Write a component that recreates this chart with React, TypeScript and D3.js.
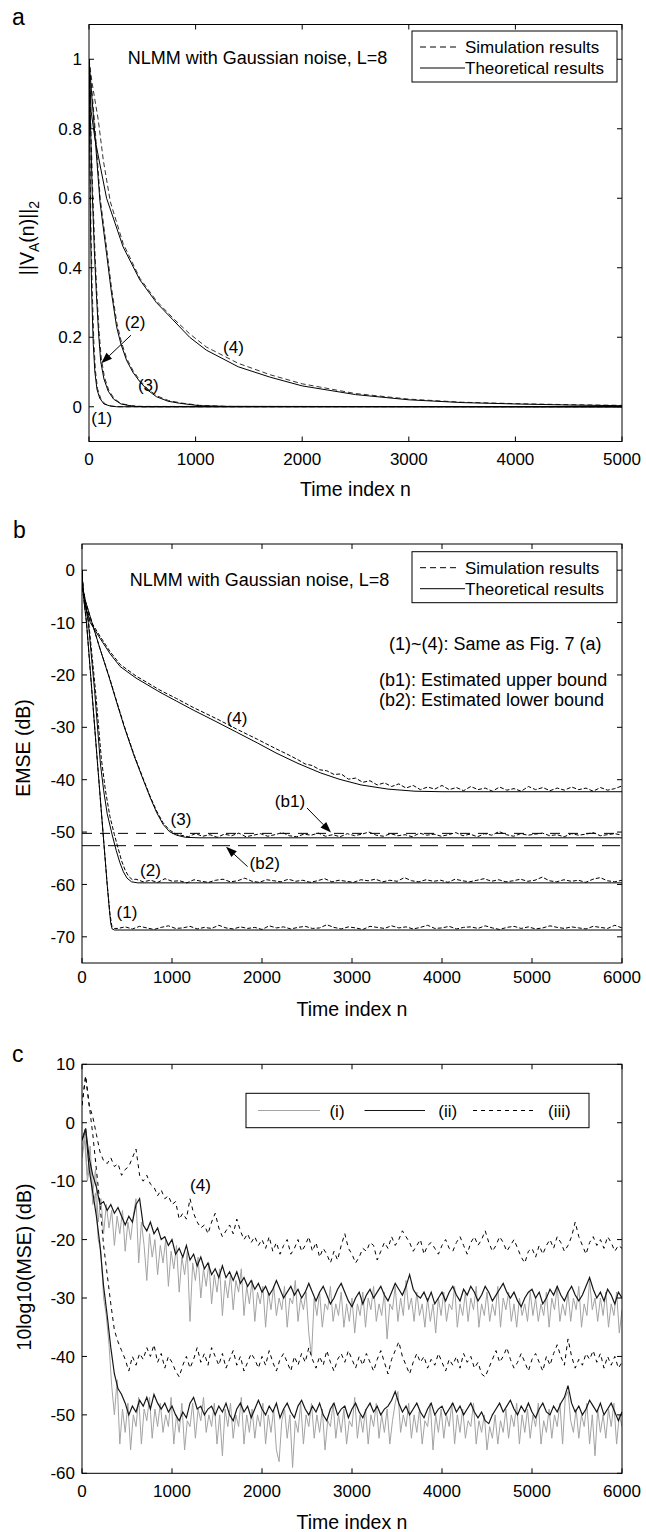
import React from "react";
import * as d3 from "d3";

type P = [number, number];
const FONT = "'Liberation Sans', Arial, Helvetica, sans-serif";

// ---------------- Panel a ----------------
const aXTicks = [0, 1000, 2000, 3000, 4000, 5000];
const aYTicks = [0, 0.2, 0.4, 0.6, 0.8, 1];
const aTheo1: P[] = [[0, 1], [8, 0.7], [15, 0.5], [25, 0.33], [40, 0.18], [55, 0.1], [75, 0.05], [100, 0.025], [140, 0.008], [200, 0.002], [260, 0], [5000, 0]];
const aSim1: P[] = [[0, 1], [10, 0.72], [18, 0.52], [30, 0.34], [45, 0.19], [60, 0.105], [80, 0.052], [110, 0.024], [150, 0.008], [210, 0.002], [280, 0], [5000, 0]];
const aTheo2: P[] = [[0, 1], [15, 0.8], [30, 0.62], [50, 0.45], [70, 0.32], [90, 0.21], [110, 0.13], [140, 0.08], [180, 0.045], [230, 0.022], [300, 0.008], [400, 0.002], [500, 0], [5000, 0]];
const aSim2: P[] = [[0, 1], [18, 0.8], [35, 0.62], [55, 0.45], [75, 0.32], [95, 0.215], [115, 0.14], [145, 0.085], [185, 0.048], [235, 0.024], [300, 0.009], [400, 0.003], [500, 0.001], [5000, 0]];
const aTheo3: P[] = [[0, 1], [30, 0.88], [56, 0.78], [103, 0.59], [165, 0.44], [210, 0.33], [259, 0.23], [300, 0.18], [352, 0.134], [410, 0.1], [477, 0.072], [550, 0.048], [632, 0.029], [740, 0.016], [850, 0.01], [1036, 0.003], [1300, 0.001], [5000, 0]];
const aSim3: P[] = [[0, 1], [30, 0.9], [60, 0.79], [105, 0.6], [168, 0.45], [212, 0.34], [262, 0.24], [305, 0.185], [355, 0.138], [415, 0.103], [480, 0.075], [555, 0.05], [640, 0.031], [745, 0.018], [860, 0.011], [1040, 0.004], [1300, 0.001], [5000, 0]];
const aTheo4: P[] = [[0, 1], [20, 0.85], [56, 0.77], [165, 0.6], [320, 0.46], [477, 0.365], [632, 0.3], [788, 0.25], [944, 0.2], [1100, 0.163], [1400, 0.115], [1700, 0.085], [2000, 0.06], [2500, 0.035], [3000, 0.02], [3500, 0.012], [4000, 0.008], [4500, 0.005], [5000, 0.003]];
const aSim4: P[] = [[0, 1], [30, 0.93], [87, 0.825], [134, 0.71], [200, 0.59], [320, 0.47], [477, 0.37], [632, 0.305], [788, 0.255], [944, 0.21], [1100, 0.172], [1400, 0.125], [1700, 0.092], [2000, 0.066], [2500, 0.038], [3000, 0.022], [3500, 0.013], [4000, 0.009], [4500, 0.006], [5000, 0.004]];

// ---------------- Panel b ----------------
const bXTicks = [0, 1000, 2000, 3000, 4000, 5000, 6000];
const bYTicks = [0, -10, -20, -30, -40, -50, -60, -70];
const bTheo1: P[] = [[0, 0], [10, -4], [50, -10], [100, -20.9], [150, -32], [233, -50], [280, -60], [305, -65], [320, -67.5], [335, -68.5], [360, -68.7], [6000, -68.7]];
const bTheo2: P[] = [[0, 0], [10, -3.5], [70, -10], [140, -23], [205, -37], [240, -42], [280, -46.5], [335, -50.5], [380, -53.5], [420, -55.8], [460, -57.6], [500, -58.8], [550, -59.5], [620, -59.7], [6000, -59.7]];
const bTheo3: P[] = [[0, 0], [10, -3.5], [40, -6], [111, -10], [200, -15], [302, -20.5], [390, -25.5], [471, -30], [580, -35.5], [680, -40], [760, -43.5], [830, -46.3], [900, -48.5], [970, -49.9], [1050, -50.6], [1150, -51], [1300, -51.1], [6000, -51.1]];
const bTheo4: P[] = [[0, 0], [10, -3.5], [40, -7], [92, -10], [200, -13], [314, -16], [424, -18.4], [600, -20.6], [866, -23.3], [1050, -25], [1235, -26.7], [1500, -29], [1714, -30.9], [1950, -33], [2156, -34.9], [2400, -36.9], [2650, -38.7], [2856, -39.9], [3100, -41], [3400, -41.8], [3700, -42.2], [4000, -42.3], [6000, -42.3]];
const bSim1Head: P[] = [[0, 0], [10, -4], [50, -10], [100, -21], [150, -32], [233, -50], [280, -60], [310, -65.5], [330, -67.8], [360, -68.4]];
const bSim1Tail = [-68.4, -68.1, -68.5, -68.0, -68.3, -68.6, -68.2, -67.9, -68.4, -68.3, -68.0, -68.5, -68.2, -68.4, -67.8, -68.3, -68.5, -68.1, -68.4, -68.2, -68.6, -67.9, -68.3, -68.1, -68.5, -68.2, -68.0, -68.4, -68.3, -67.7, -68.2, -68.5, -68.1, -68.3, -68.6, -68.0, -68.2, -68.4, -67.9, -68.3, -68.1, -68.5, -68.2, -67.8, -68.4, -68.3, -68.0, -68.5, -68.2, -68.1, -68.4, -67.9, -68.3, -68.6, -68.2, -68.0, -68.4, -68.1, -68.5, -68.3, -67.9, -68.2, -68.4, -68.1, -68.3, -68.5, -68.0, -68.2, -68.4, -67.8, -68.3];
const bSim2Head: P[] = [[0, 0], [10, -3.5], [75, -10], [150, -23], [215, -36], [260, -42], [310, -47], [360, -50.5], [400, -53], [440, -55.5], [480, -57.3], [520, -58.5], [560, -59.1]];
const bSim2Tail = [-59.0, -59.5, -59.2, -59.6, -58.9, -59.4, -59.3, -59.7, -59.1, -59.4, -59.6, -59.2, -59.0, -59.5, -59.3, -58.8, -59.4, -59.6, -59.1, -59.3, -59.5, -59.0, -59.4, -59.2, -59.6, -59.3, -58.9, -59.5, -59.2, -59.4, -59.6, -59.1, -59.3, -59.0, -59.5, -59.2, -59.4, -58.7, -59.3, -59.5, -59.1, -59.4, -59.2, -59.6, -59.0, -59.3, -59.5, -59.2, -58.9, -59.4, -59.1, -59.5, -59.3, -59.0, -59.4, -59.2, -58.6, -59.3, -59.5, -59.1, -59.4, -59.2, -59.6, -59.0, -58.7, -59.3, -59.5, -59.2];
const bSim3Head: P[] = [[0, 0], [10, -3.5], [40, -6], [111, -10], [200, -15], [302, -20.3], [390, -25.3], [471, -29.8], [580, -35.3], [680, -39.8], [760, -43.3], [830, -46], [900, -48.2], [970, -49.6], [1040, -50.3]];
const bSim3Tail = [-50.6, -50.9, -50.3, -50.8, -50.5, -51.0, -50.4, -50.7, -50.2, -50.9, -50.6, -50.3, -50.8, -50.5, -50.1, -50.7, -50.9, -50.4, -50.6, -50.2, -50.8, -50.5, -50.9, -50.3, -50.7, -50.4, -50.0, -50.6, -50.8, -50.3, -50.7, -50.5, -50.9, -50.2, -50.6, -50.4, -50.8, -50.5, -50.1, -50.7, -50.4, -50.9, -50.3, -50.6, -49.9, -50.5, -50.8, -50.3, -50.6, -50.4, -50.2, -50.7, -50.5, -50.9, -50.3, -50.6, -50.4, -50.1, -50.7, -50.5, -50.3, -50.6];
const bSim4Head: P[] = [[0, 0], [10, -3.5], [40, -6.5], [92, -9.6], [200, -12.6], [314, -15.6], [424, -18], [600, -20.2], [866, -22.9], [1050, -24.5], [1235, -26.2], [1500, -28.4], [1714, -30.3], [1950, -32.3], [2156, -34.1], [2300, -35.3]];
const bSim4Tail = [-36.2, -37.0, -37.3, -38.1, -38.3, -39.0, -38.9, -39.9, -39.7, -40.5, -40.2, -41.0, -40.6, -41.3, -40.8, -41.6, -41.1, -41.9, -41.4, -41.8, -41.1, -41.9, -41.5, -42.1, -41.3, -41.9, -41.6, -42.2, -41.4, -42.0, -41.7, -42.2, -41.3, -41.9, -41.5, -42.1, -41.6, -42.0, -41.4, -41.9, -41.6, -42.2, -41.5, -42.0, -41.7, -41.2];
const bBoundUpper = -50.25;
const bBoundLower = -52.6;

// ---------------- Panel c ----------------
const cXTicks = [0, 1000, 2000, 3000, 4000, 5000, 6000];
const cYTicks = [10, 0, -10, -20, -30, -40, -50, -60];
const cUpperIII = [3, 8, 3, 1, -2, -5, -6.5, -7, -6, -7.5, -7, -9, -8, -7.5, -6, -4.5, -9, -10, -9, -10.5, -11, -12.5, -11.5, -13, -12.5, -14, -13.5, -16.5, -15.5, -16.5, -13, -15.5, -17, -18, -17.5, -19, -17, -15.5, -18, -19.5, -18.5, -17.5, -19, -16.5, -18.5, -20, -19, -20.5, -19.5, -21, -20, -21.5, -19.5, -22, -20.5, -22.5, -21, -20, -22.5, -21.5, -20, -22, -21, -19.5, -22, -20.5, -23, -21.5, -22.5, -24, -22, -23.5, -21, -19, -21.5, -22.5, -24, -23, -21.5, -22, -20.5, -21, -23.5, -22, -20.5, -21.5, -19.5, -21, -20, -18.5, -19.5, -20.5, -22, -21, -20, -22.5, -21, -20.5, -21.5, -22.5, -21, -20, -21.5, -22, -20.5, -19.5, -21, -22.5, -20.5, -19.5, -21, -20, -18.5, -20.5, -22, -21, -19.5, -20.5, -22, -21, -20, -21.5, -23, -24, -22, -21.5, -23, -21, -22.5, -21, -20, -21.5, -19.5, -20.5, -22, -21, -19.5, -17, -19.5, -21, -22.5, -20.5, -19.5, -21, -20, -21.5, -19.5, -20.5, -22, -21, -21.5];
const cUpperII = [-3, -1, -6, -9, -11, -14, -13.5, -15, -14, -15.5, -14.5, -16, -17.5, -16, -17, -14, -13, -17.5, -18.5, -17, -19, -18, -20, -19.5, -21, -20, -22.5, -21.5, -23, -21, -23.5, -22.5, -24.5, -23, -25, -24, -26, -25, -26.5, -24.5, -26.5, -25.5, -27, -25.5, -27.5, -26.5, -28, -27, -28.5, -27.5, -29, -28, -29.5, -28.5, -27, -28.5, -30, -29, -28, -29.5, -28.5, -30, -29, -27.5, -29, -30.5, -29, -28, -29.5, -31, -30, -28.5, -27.5, -29, -30.5, -31.5, -30, -29, -31, -29.5, -28.5, -30, -29, -28, -29.5, -30.5, -29, -27.5, -28.5, -29.5, -28, -26, -28.5, -29.5, -30, -29, -30.5, -29, -31, -30, -29, -30.5, -29, -28, -29.5, -30.5, -28.5, -29.5, -28, -29, -30.5, -29.5, -28, -29, -30.5, -29.5, -28.5, -27.5, -29, -30, -29, -30.5, -31.5, -30, -29, -28.5, -30, -29, -31, -30, -28.5, -29.5, -28, -29.5, -30.5, -29, -28, -29.5, -30.5, -29.5, -28, -26.5, -28.5, -30, -29, -30.5, -28.5, -29.5, -31, -29, -30];
const cUpperI = [-5, -2, -9, -4, -12, -8, -17, -13, -19, -14, -18, -15, -21, -16, -19, -15, -22, -17, -20, -16, -13, -24, -17, -21, -27, -19, -23, -20, -26, -21, -24, -20, -28, -22, -25, -21, -29, -23, -26, -22, -34, -24, -27, -23, -30, -25, -28, -24, -31, -26, -29, -25, -33, -27, -30, -26, -32, -27, -29, -25, -33, -28, -31, -27, -34, -29, -31, -28, -35, -29, -32, -28, -33, -30, -32, -28, -35, -30, -31, -27, -34, -30, -32, -29, -36, -40, -30, -33, -29, -35, -31, -32, -28, -34, -31, -33, -29, -35, -31, -34, -30, -36, -31, -33, -29, -35, -30, -32, -28, -34, -31, -33, -29, -37, -31, -32, -28, -34, -30, -33, -27, -32, -30, -34, -29, -33, -31, -35, -30, -34, -31, -36, -30, -33, -29, -34, -31, -32, -28, -35, -31, -33, -29, -34, -30, -32, -28, -35, -31, -33, -29, -34, -31, -33, -28, -35, -30, -32, -29, -34, -31, -35, -30, -33, -31, -34, -29, -33, -30, -34, -31, -33, -29, -35, -30, -32, -28, -34, -31, -33, -29, -34, -30, -32, -28, -35, -31, -33, -27, -32, -30, -34, -30, -33, -29, -35, -31, -33, -29, -36, -32];
const cLowerIII = [3, 8, 3, -2, -8, -14, -21, -26, -31, -35.5, -37.5, -39, -40.5, -42.5, -40, -41.5, -39.5, -40.5, -38.5, -40, -38, -41, -39.5, -42, -40, -41, -42.5, -43.5, -41.5, -40, -42, -40.5, -38.5, -41, -39.5, -41.5, -38.5, -40, -41.5, -39.5, -42, -40.5, -39, -41.5, -40, -42.5, -41, -39.5, -40.5, -42, -40, -41.5, -39, -41, -42.5, -40.5, -39.5, -41, -42.5, -40, -41.5, -39.5, -41, -38.5, -40.5, -42, -40, -41.5, -39, -41, -42.5, -40.5, -39.5, -41, -39, -40.5, -42, -40, -41.5, -39.5, -41, -42.5, -40.5, -39, -41, -43, -40.5, -39, -37.5, -40, -41.5, -43, -41, -39.5, -41, -40, -42, -40.5, -41.5, -39.5, -41, -42.5, -40.5, -41.5, -40, -42, -39.5, -41, -40, -42, -41, -43, -43.5, -42, -40.5, -39, -41, -40, -38.5, -40.5, -42, -41, -39.5, -41, -42.5, -40.5, -39.5, -41, -42.5, -40, -41.5, -39.5, -38, -40, -41.5, -37, -40, -42, -40.5, -41.5, -39.5, -40.5, -39, -41, -39.5, -42, -40, -41.5, -40, -42, -41];
const cLowerII = [-3, -1, -8, -12, -16, -21, -28, -33, -38.5, -43, -45.5, -46.5, -48, -50, -48.5, -49.5, -47.5, -48.5, -47, -49, -46.5, -48, -49, -48, -49.5, -48.5, -50, -51, -49.5, -50.5, -48, -47, -49, -48.5, -50, -49, -48.5, -50, -48.5, -49.5, -48, -50, -51, -49, -48, -49.5, -48.5, -50.5, -49, -47.5, -49, -50, -48.5, -49.5, -48, -50.5, -49, -48, -49.5, -50.5, -48.5, -47.5, -49, -50, -48.5, -49.5, -48, -50, -51, -49, -48, -50, -49, -48.5, -50.5, -49, -48, -49.5, -50.5, -49, -48, -49.5, -48.5, -50, -49, -48.5, -47.5, -46, -48, -49.5, -48.5, -50, -49, -48, -49.5, -50.5, -49, -48, -50, -49, -48.5, -50, -49, -48, -49.5, -48.5, -50, -49, -48, -49.5, -50.5, -49.5, -51, -51.5, -50, -49, -48, -49.5, -48.5, -47.5, -49, -50, -48.5, -49.5, -48, -49.5, -50.5, -49, -48, -49.5, -50, -48.5, -49.5, -48, -47, -45, -48, -49.5, -48.5, -50, -49, -47.5, -48.5, -49.5, -48, -50, -49, -48, -49.5, -51, -49.5];
const cLowerI = [-6, -3, -10, -7, -14, -12, -20, -22, -30, -33, -38, -45, -50, -44, -55, -49, -53, -48, -56, -50, -52, -47, -55, -49, -51, -47, -54, -49, -52, -48, -53, -50, -52, -47, -55, -50, -53, -48, -56, -51, -52, -48, -54, -49, -51, -47, -53, -50, -52, -48, -55, -50, -57, -49, -52, -48, -54, -50, -52, -47, -55, -50, -53, -49, -54, -50, -52, -48, -55, -50, -53, -49, -56, -58, -51, -49, -54, -50, -59, -51, -53, -48, -55, -50, -52, -48, -54, -50, -53, -49, -56, -51, -52, -48, -54, -50, -53, -49, -55, -51, -52, -47, -54, -50, -53, -49, -55, -50, -52, -48, -54, -50, -53, -49, -55, -51, -48, -46, -53, -50, -52, -48, -54, -50, -53, -49, -55, -51, -52, -48, -56, -50, -53, -49, -54, -50, -52, -48, -55, -50, -53, -49, -54, -51, -52, -48, -55, -51, -53, -50, -56, -52, -54, -50, -55, -51, -53, -49, -54, -50, -52, -48, -55, -50, -53, -49, -54, -50, -52, -48, -55, -51, -53, -49, -54, -50, -52, -48, -55, -47, -46, -51, -53, -49, -54, -50, -52, -48, -55, -50, -57, -49, -53, -50, -54, -49, -52, -48, -55, -50, -52];

// ---------------- helpers ----------------
function spread(start: number, end: number, vals: number[]): P[] {
  const step = (end - start) / (vals.length - 1);
  return vals.map((v, i) => [start + i * step, v] as P);
}
function pathOf(x: any, y: any, pts: P[]) {
  return d3.line<P>().x((d) => x(d[0])).y((d) => y(d[1]))(pts) || "";
}

const xA = d3.scaleLinear().domain([0, 5000]).range([89, 622]);
const yA = d3.scaleLinear().domain([-0.1, 1.1]).range([441.5, 24.5]);
const xB = d3.scaleLinear().domain([0, 6000]).range([82, 622]);
const yB = d3.scaleLinear().domain([-75, 5]).range([963, 544]);
const xC = d3.scaleLinear().domain([0, 6000]).range([82, 622]);
const yC = d3.scaleLinear().domain([-60, 10]).range([1473.3, 1064.3]);

function Frame({ x, y, xTicks, yTicks, xLabelY }: any) {
  const [x0, x1] = x.range();
  const [yb, yt] = y.range();
  return (
    <g>
      <rect x={x0} y={yt} width={x1 - x0} height={yb - yt} fill="none" stroke="#000" strokeWidth={1} />
      {xTicks.map((t: number) => (
        <g key={"x" + t}>
          <line x1={x(t)} x2={x(t)} y1={yb} y2={yb - 5} stroke="#000" />
          <line x1={x(t)} x2={x(t)} y1={yt} y2={yt + 5} stroke="#000" />
          <text x={x(t)} y={xLabelY} textAnchor="middle" fontSize={17}>{String(t)}</text>
        </g>
      ))}
      {yTicks.map((t: number) => (
        <g key={"y" + t}>
          <line x1={x0} x2={x0 + 5} y1={y(t)} y2={y(t)} stroke="#000" />
          <line x1={x1} x2={x1 - 5} y1={y(t)} y2={y(t)} stroke="#000" />
          <text x={x0 - 7} y={y(t)} dy="0.36em" textAnchor="end" fontSize={17}>{String(t)}</text>
        </g>
      ))}
    </g>
  );
}

function Arrow({ x1, y1, x2, y2 }: any) {
  const ang = Math.atan2(y2 - y1, x2 - x1);
  const L = 11, W = 4;
  const bx = x2 - L * Math.cos(ang), by = y2 - L * Math.sin(ang);
  const px = -Math.sin(ang) * W, py = Math.cos(ang) * W;
  return (
    <g>
      <line x1={x1} y1={y1} x2={bx} y2={by} stroke="#000" strokeWidth={1} />
      <polygon points={`${x2},${y2} ${bx + px},${by + py} ${bx - px},${by - py}`} fill="#000" />
    </g>
  );
}

function Legend2({ x, y }: any) {
  return (
    <g>
      <rect x={x} y={y} width={205} height={51} fill="#fff" stroke="#000" strokeWidth={1} />
      <line x1={x + 8} x2={x + 45} y1={y + 16} y2={y + 16} stroke="#000" strokeDasharray="6,4" />
      <text x={x + 53} y={y + 22} fontSize={17}>Simulation results</text>
      <line x1={x + 8} x2={x + 53} y1={y + 37} y2={y + 37} stroke="#000" />
      <text x={x + 53} y={y + 43} fontSize={17}>Theoretical results</text>
    </g>
  );
}

export default function App() {
  const solid = { fill: "none", stroke: "#000", strokeWidth: 1 };
  const dashA = { fill: "none", stroke: "#333", strokeWidth: 1, strokeDasharray: "5,3" };
  const dashB = { fill: "none", stroke: "#000", strokeWidth: 1, strokeDasharray: "4,2" };

  const bSim1 = bSim1Head.concat(spread(400, 6000, bSim1Tail));
  const bSim2 = bSim2Head.concat(spread(600, 6000, bSim2Tail));
  const bSim3 = bSim3Head.concat(spread(1100, 6000, bSim3Tail));
  const bSim4 = bSim4Head.concat(spread(2400, 6000, bSim4Tail));

  return (
    <svg width={646} height={1532} style={{ position: "absolute", left: 0, top: 0, background: "#fff" }} fontFamily={FONT}>
      <defs>
        <clipPath id="clipA"><rect x={89} y={24.5} width={533} height={417} /></clipPath>
        <clipPath id="clipB"><rect x={82} y={544} width={540} height={419} /></clipPath>
        <clipPath id="clipC"><rect x={82} y={1064.3} width={540} height={409} /></clipPath>
      </defs>
      <rect x={0} y={0} width={646} height={1532} fill="#fff" />

      {/* ---------- Panel a ---------- */}
      <text x={12} y={25} fontSize={23}>a</text>
      <g clipPath="url(#clipA)">
        {[aSim1, aSim2, aSim3, aSim4].map((s, i) => <path key={"as" + i} d={pathOf(xA, yA, s)} {...dashA} />)}
        {[aTheo1, aTheo2, aTheo3, aTheo4].map((s, i) => <path key={"at" + i} d={pathOf(xA, yA, s)} {...solid} />)}
      </g>
      <Frame x={xA} y={yA} xTicks={aXTicks} yTicks={aYTicks} xLabelY={465} />
      <text x={127.7} y={64} fontSize={18}>NLMM with Gaussian noise, L=8</text>
      <Legend2 x={412} y={31} />
      <text x={xA(432)} y={yA(0.245)} dy="0.35em" textAnchor="middle" fontSize={17}>(2)</text>
      <Arrow x1={xA(394)} y1={yA(0.206)} x2={xA(115)} y2={yA(0.125)} />
      <text x={xA(556)} y={yA(0.0625)} dy="0.35em" textAnchor="middle" fontSize={17}>(3)</text>
      <text x={xA(119)} y={yA(-0.0325)} dy="0.35em" textAnchor="middle" fontSize={17}>(1)</text>
      <text x={xA(1355)} y={yA(0.173)} dy="0.35em" textAnchor="middle" fontSize={17}>(4)</text>
      <text x={355.5} y={496} textAnchor="middle" fontSize={19.5}>Time index n</text>
      <text transform="translate(34,238) rotate(-90)" textAnchor="middle" fontSize={19.5}>
        ||V<tspan fontSize={14} dy={5}>A</tspan><tspan dy={-5}>(n)||</tspan><tspan fontSize={14} dy={5}>2</tspan>
      </text>

      {/* ---------- Panel b ---------- */}
      <text x={13} y={538} fontSize={23}>b</text>
      <g clipPath="url(#clipB)">
        <line x1={xB(0)} x2={xB(6000)} y1={yB(bBoundUpper)} y2={yB(bBoundUpper)} stroke="#000" strokeWidth={1} strokeDasharray="10,8" />
        <line x1={xB(0)} x2={xB(6000)} y1={yB(bBoundLower)} y2={yB(bBoundLower)} stroke="#000" strokeWidth={1} strokeDasharray="18,8" />
        {[bSim1, bSim2, bSim3, bSim4].map((s, i) => <path key={"bs" + i} d={pathOf(xB, yB, s)} {...dashB} />)}
        {[bTheo1, bTheo2, bTheo3, bTheo4].map((s, i) => <path key={"bt" + i} d={pathOf(xB, yB, s)} {...solid} />)}
      </g>
      <Frame x={xB} y={yB} xTicks={bXTicks} yTicks={bYTicks} xLabelY={983} />
      <text x={129.7} y={585.5} fontSize={18}>NLMM with Gaussian noise, L=8</text>
      <Legend2 x={412} y={551.7} />
      <text x={389} y={650} fontSize={18}>(1)~(4): Same as Fig. 7 (a)</text>
      <text x={379} y={686} fontSize={18}>(b1): Estimated upper bound</text>
      <text x={379} y={705.5} fontSize={18}>(b2): Estimated lower bound</text>
      <text x={xB(1722)} y={yB(-28.3)} dy="0.35em" textAnchor="middle" fontSize={17}>(4)</text>
      <text x={xB(1100)} y={yB(-47.6)} dy="0.35em" textAnchor="middle" fontSize={17}>(3)</text>
      <text x={xB(761)} y={yB(-57.2)} dy="0.35em" textAnchor="middle" fontSize={17}>(2)</text>
      <text x={xB(500)} y={yB(-65.2)} dy="0.35em" textAnchor="middle" fontSize={17}>(1)</text>
      <text x={xB(2311)} y={yB(-44.1)} dy="0.35em" textAnchor="middle" fontSize={17}>(b1)</text>
      <Arrow x1={xB(2500)} y1={yB(-45.4)} x2={xB(2767)} y2={yB(-50.1)} />
      <text x={xB(2030)} y={yB(-56)} dy="0.35em" textAnchor="middle" fontSize={17}>(b2)</text>
      <Arrow x1={xB(1840)} y1={yB(-56.6)} x2={xB(1600)} y2={yB(-52.8)} />
      <text x={352} y={1016} textAnchor="middle" fontSize={19.5}>Time index n</text>
      <text transform="translate(30,748) rotate(-90)" textAnchor="middle" fontSize={19.5}>EMSE (dB)</text>

      {/* ---------- Panel c ---------- */}
      <text x={12} y={1062} fontSize={23}>c</text>
      <g clipPath="url(#clipC)">
        <path d={pathOf(xC, yC, spread(0, 6000, cUpperI))} fill="none" stroke="#a3a3a3" strokeWidth={1} />
        <path d={pathOf(xC, yC, spread(0, 6000, cLowerI))} fill="none" stroke="#a3a3a3" strokeWidth={1} />
        <path d={pathOf(xC, yC, spread(0, 6000, cUpperII))} fill="none" stroke="#161616" strokeWidth={1.2} />
        <path d={pathOf(xC, yC, spread(0, 6000, cLowerII))} fill="none" stroke="#161616" strokeWidth={1.2} />
        <path d={pathOf(xC, yC, spread(0, 6000, cUpperIII))} fill="none" stroke="#000" strokeWidth={1} strokeDasharray="4,4" />
        <path d={pathOf(xC, yC, spread(0, 6000, cLowerIII))} fill="none" stroke="#000" strokeWidth={1} strokeDasharray="4,4" />
      </g>
      <Frame x={xC} y={yC} xTicks={cXTicks} yTicks={cYTicks} xLabelY={1497} />
      <rect x={246} y={1093.3} width={343} height={34.4} fill="#fff" stroke="#000" strokeWidth={1} />
      <line x1={258} x2={320} y1={1110.5} y2={1110.5} stroke="#a3a3a3" strokeWidth={1.2} />
      <text x={337} y={1116.5} textAnchor="middle" fontSize={17}>(i)</text>
      <line x1={364.5} x2={425} y1={1110.5} y2={1110.5} stroke="#161616" strokeWidth={1.2} />
      <text x={447.7} y={1116.5} textAnchor="middle" fontSize={17}>(ii)</text>
      <line x1={473} x2={535.4} y1={1110.5} y2={1110.5} stroke="#000" strokeWidth={1} strokeDasharray="4,4" />
      <text x={559.3} y={1116.5} textAnchor="middle" fontSize={17}>(iii)</text>
      <text x={xC(1316)} y={yC(-10.7)} dy="0.35em" textAnchor="middle" fontSize={17}>(4)</text>
      <text x={352} y={1529} textAnchor="middle" fontSize={19.5}>Time index n</text>
      <text transform="translate(31,1267) rotate(-90)" textAnchor="middle" fontSize={19.5}>10log10(MSE) (dB)</text>
    </svg>
  );
}
